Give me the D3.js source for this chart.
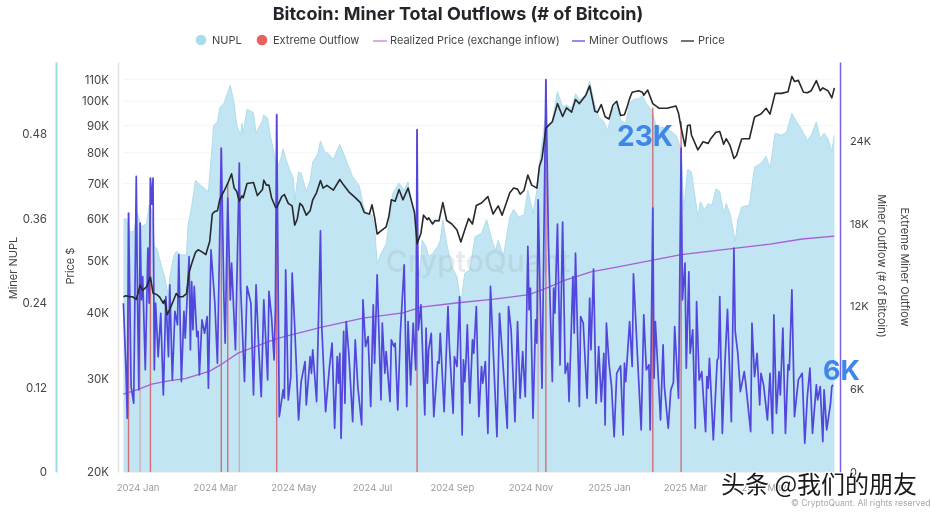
<!DOCTYPE html>
<html><head><meta charset="utf-8">
<script src="https://cdn.jsdelivr.net/npm/d3@7"></script>
<style>
html,body{margin:0;padding:0;background:#fff}
svg{display:block;font-family:Inter,"Noto Sans",sans-serif;filter:blur(0.4px)}
</style></head><body>
<svg id="c" width="931" height="512"></svg>
<script>
// All series: [days since 2024-01-01, value]
const titleText = "Bitcoin: Miner Total Outflows (# of Bitcoin)";
const monthTicks = ["2024-01-01","2024-03-01","2024-05-01","2024-07-01","2024-09-01","2024-11-01","2025-01-01","2025-03-01","2025-05-01"];
const nuplTicks = [0,0.12,0.24,0.36,0.48];
const priceTicks = [20,30,40,50,60,70,80,90,100,110]; // thousand USD
const outflowTicks = [0,6,12,18,24]; // thousand BTC

const minerOutflows = [[-11,12.23],[-9,7.40],[-8,3.89],[-7,18.76],[-5,6.19],[-3,4.98],[-1,21.41],[0,12.23],[1,5.95],[2,18.03],[3,12.47],[4,14.16],[6,7.40],[8,16.22],[9,12.23],[10,21.29],[11,19.4],[12,21.29],[13,7.40],[14,12.23],[16,8.36],[18,11.50],[20,5.58],[22,12.71],[24,8.36],[25,13.56],[27,6.67],[29,11.63],[31,10.66],[32,15.73],[34,6.55],[36,11.63],[37,9.69],[40,15.61],[41,8.85],[42,13.80],[43,10.30],[44,13.44],[46,9.81],[47,10.18],[48,7.03],[50,11.02],[52,10.05],[54,11.26],[55,6.07],[57,16.10],[60,12.23],[62,7.88],[65,23.47],[67,12.71],[68,9.33],[70,19.84],[72,12.47],[73,15.13],[76,8.85],[79,22.38],[80,13.44],[83,6.55],[85,13.44],[88,12.23],[90,5.58],[92,13.56],[94,9.09],[96,5.46],
[98,12.47],[101,6.67],[102,13.08],[104,11.26],[106,8.12],[107,11.87],[108,25.89],[110,4.01],[113,5.95],[114,5.34],[115,14.65],[117,5.22],[119,6.91],[120,14.41],[122,10.54],[125,3.77],[127,6.55],[130,8.00],[131,4.86],[134,8.36],[135,7.15],[136,8.85],[139,5.10],[142,17.47],[143,10.54],[146,4.37],[149,7.64],[151,9.33],[153,3.17],[155,8.36],[156,6.43],[157,8.60],[158,2.44],[160,10.18],[161,4.98],[162,10.90],[164,8.60],[167,3.65],[169,9.57],[171,6.19],[174,3.41],[175,12.47],[177,9.09],[179,9.81],[181,4.74],[183,12.11],[184,7.88],[186,14.28],[189,5.22],[190,10.78],[192,7.15],[193,8.73],[196,5.10],[197,9.57],[199,9.09],[200,9.33],[202,4.50],[204,10.05],[207,15.0],
[209,4.74],[210,10.90],[212,6.31],[214,10.78],[216,7.40],[217,24.80],[218,10.30],[220,12.11],[223,4.13],[224,10.42],[225,6.43],[226,8.85],[228,10.05],[230,4.01],[233,8.00],[234,7.88],[235,10.05],[238,4.37],[241,11.99],[242,9.33],[245,4.25],[246,8.36],[248,7.64],[250,12.71],[252,2.68],[253,8.12],[254,6.55],[255,8.12],[256,10.66],[258,4.98],[260,9.57],[261,8.60],[263,11.99],[265,4.01],[267,7.64],[268,6.43],[270,8.00],[272,2.80],[274,13.44],[279,2.56],[281,11.50],[284,7.40],[287,3.17],[288,11.99],[290,10.30],[293,3.65],[295,10.90],[296,8.12],[297,5.34],[299,8.73],[301,5.46],[303,16.34],[304,11.75],[305,13.32],[307,3.89],[309,11.02],[310,9.33],[311,19.72],[314,6.07],[317,28.42],
[319,16.58],[322,6.55],[323,13.32],[324,11.50],[326,17.96],[328,7.76],[330,18.10],[332,7.15],[334,7.88],[335,5.10],[338,14.16],[339,10.05],[340,15.86],[343,4.74],[344,11.26],[346,10.78],[349,5.34],[351,12.59],[352,8.85],[354,14.70],[356,4.98],[358,9.09],[360,5.10],[362,8.60],[363,3.41],[364,10.78],[366,7.88],[368,6.19],[370,2.56],[372,7.15],[375,7.69],[377,2.68],[378,7.88],[379,6.55],[382,10.90],[384,7.64],[385,14.36],[388,8.60],[391,3.05],[393,11.38],[395,7.40],[397,7.76],[398,3.05],[400,19.12],[401,6.79],[402,10.90],[406,3.77],[408,9.21],[409,6.19],[412,3.17],[414,5.95],[416,6.48],[417,10.54],[420,5.34],[422,23.47],[423,12.47],[425,15.13],[426,7.52],[428,14.5],
[429,8.60],[431,10.30],[433,3.17],[434,12.35],[436,6.67],[438,7.27],[441,2.92],[442,6.91],[443,6.07],[444,8.24],[447,2.32],[450,8.12],[451,8.24],[452,12.71],[454,2.80],[456,7.88],[458,11.79],[461,3.65],[463,16.22],[464,10.18],[466,8.60],[468,5.82],[471,7.27],[472,6.55],[476,2.92],[477,10.78],[479,6.91],[481,8.60],[483,4.86],[484,7.15],[486,6.31],[489,3.77],[491,7.15],[493,2.80],[494,11.38],[496,4.25],[498,7.27],[499,5.58],[501,10.42],[503,2.80],[505,7.76],[506,7.40],[508,13.20],[510,4.01],[513,6.67],[516,7.15],[518,2.08],[520,5.46],[522,7.52],[524,2.80],[527,6.31],[528,5.22],[530,6.19],[532,2.20],[533,5.95],[535,3.05],[538,4.98],[539,6.19],[540,6.31]];

const priceK = [[-11,42.8],[-9,43],[-6,42.8],[-4,42.8],[-1,42.3],[2,45],[4,44],[7,44.7],[10,46.6],[12,43.5],[15,43.2],[17,42.8],[20,41.6],[21,42.2],[23,39.6],[25,40.5],[28,42.2],[30,43.4],[32,42.8],[35,42.8],[38,43.4],[40,47.6],[42,49.4],[45,51.9],[47,52.5],[50,52],[53,51.4],[56,54.4],[58,61.3],[60,62],[62,62.2],[64,65.5],[67,67.6],[70,70],[73,73],[75,68.6],[77,67.6],[79,64.8],[81,66.3],[82,65.8],[85,70],[90,70.3],[93,66.4],[97,68.2],
[98,71],[100,69.5],[102,69.5],[104,65.8],[107,63.2],[108,63],[112,66.2],[114,66.7],[117,64.2],[120,63.5],[122,58.4],[124,60],[126,64.2],[128,63.5],[131,61],[134,62.2],[136,65.2],[139,67.3],[142,70.9],[144,68.6],[147,69.4],[152,68],[157,71.2],[160,69.5],[164,67.5],[169,65.8],[173,64.4],[176,61.7],[180,61.3],[182,63.8],[184,60.5],[186,56.2],[189,57],[193,58],[195,60.5],[197,65.2],[200,64.8],[203,68.2],[206,65.2],
[210,68.6],[213,64.4],[215,61.7],[217,53.9],[220,56.4],[222,61],[225,59.8],[226,60.3],[229,58.7],[231,59.6],[234,59.5],[237,64.4],[240,59.6],[244,58.7],[248,57.2],[251,54.3],[254,57.2],[257,60.1],[260,58.7],[263,63.6],[267,64.3],[272,66.1],[276,61.3],[280,63.5],[283,61],[289,67.2],[292,68.6],[295,68.3],[297,66.8],[300,67.9],[303,72.6],[306,69.5],[310,68.6],[312,75.4],[314,78],[317,89],
[318,89.5],[322,91.5],[326,99],[330,93.6],[333,97.2],[337,95.4],[340,100.8],[343,99],[348,102.7],[351,106.9],[355,95.8],[357,95.3],[360,98.6],[363,93.5],[366,92.6],[369,98.3],[372,100],[375,94],[378,94.3],[380,97.4],[382,101.2],[384,104],[389,104.7],[392,104],[393,102.7],[396,105],[400,99],[405,97],[411,97],[418,98],[420,94.9],[422,89.2],[425,82.3],[427,90],
[429,90.2],[430,86.4],[435,81],[439,83.9],[443,83.3],[445,85],[449,87.4],[452,87.7],[455,83],[457,85],[460,82.5],[463,78],[465,79],[469,84.9],[471,85],[475,85],[479,93.4],[484,94.6],[488,97],[491,94.6],[495,103.5],[500,103.5],[505,104.2],[508,111.4],[510,109],[513,109.5],[517,104],[520,103.8],[523,104.7],[527,109.4],[530,104.7],[532,106],[536,104.7],[539,101.5],[541,106]];

const nupl = [[-11,.358],[-9,.360],[-6,.341],[-3,.341],[0,.367],[3,.348],[7,.353],[9,.379],[11,.372],[13,.320],[15,.317],[18,.296],[21,.277],[24,.249],[25,.277],[28,.306],[30,.313],[34,.308],[38,.308],[39,.348],[42,.377],[45,.414],[49,.407],[55,.398],[58,.466],[59,.492],[62,.497],[64,.518],[67,.523],[72,.549],[75,.523],[77,.492],[80,.478],[81,.495],[82,.481],[85,.515],[90,.510],[92,.481],[97,.499],
[98,.507],[101,.502],[103,.478],[106,.452],[108,.429],[111,.443],[113,.459],[115,.445],[118,.429],[121,.417],[122,.384],[125,.426],[127,.424],[131,.398],[134,.414],[136,.440],[140,.452],[142,.470],[145,.455],[148,.452],[152,.444],[157,.465],[160,.452],[164,.433],[167,.419],[172,.407],[175,.381],[177,.367],[182,.365],[184,.348],[186,.296],[189,.310],[193,.324],[196,.362],[198,.395],[203,.410],[207,.400],
[210,.412],[213,.381],[216,.360],[217,.320],[219,.277],[221,.329],[224,.320],[226,.306],[229,.310],[233,.320],[235,.329],[237,.358],[240,.324],[244,.291],[248,.277],[251,.239],[254,.282],[258,.287],[262,.334],[267,.339],[271,.358],[276,.324],[278,.315],[280,.329],[284,.306],[289,.362],[292,.373],[296,.362],[300,.365],[303,.400],[307,.367],[310,.400],[313,.452],[317,.509],
[318,.490],[322,.499],[326,.540],[330,.518],[333,.521],[337,.516],[340,.537],[343,.528],[348,.535],[351,.555],[355,.521],[358,.504],[362,.497],[365,.485],[369,.514],[372,.523],[375,.499],[379,.495],[382,.523],[385,.529],[389,.530],[392,.534],[395,.523],[399,.514],[403,.490],[411,.488],[418,.478],[422,.459],[424,.372],[427,.429],
[428,.429],[430,.426],[435,.362],[437,.384],[440,.372],[443,.381],[446,.379],[449,.402],[452,.398],[455,.367],[457,.381],[460,.367],[464,.327],[466,.358],[469,.376],[475,.379],[479,.433],[484,.438],[488,.448],[491,.431],[495,.481],[500,.478],[504,.483],[508,.509],[511,.499],[515,.488],[520,.471],[523,.478],[527,.497],[530,.473],[533,.481],[536,.473],[539,.455],[541,.478]];

const realizedPriceK = [[-11,28.05],[0,28.6],[11,29.3],[24,29.7],[37,30],[56,31],[64,31.8],[78,33.5],[96,34.8],[108,35.7],[143,37.5],[175,39],[206,39.9],[220,40.9],[249,41.7],[275,42.3],[304,43.2],[317,44.4],[331,45.9],[352,47.7],[372,48.7],[400,50.2],[422,51.4],[463,52.8],[491,53.8],[516,55],[541,55.7]];

// Extreme outflow: day, value in thousand BTC, faded flag
const extremeDays   = [-7,2,10,65,70,79,108,217,311,317,400,422];
const extremeValues = [18.76,18.03,21.29,23.47,20.95,22.38,25.89,24.80,19.72,28.42,26.4,25.4];
const extremeFaded  = [0,1,0,0,0,1,0,0,1,0,0,0];

const legendItems = ["NUPL","Extreme Outflow","Realized Price (exchange inflow)","Miner Outflows","Price"];

const svg = d3.select("#c");
const epoch = Date.UTC(2024,0,1);
const toDate = d => new Date(epoch + d*864e5);
const x = d3.scaleUtc().domain([toDate(-11),toDate(541)]).range([123.4,834.4]);
const plotTop = 62, plotBottom = 472;
const yNupl = d3.scaleLinear().domain([0,0.582]).range([plotBottom,plotTop]);
const yPrice = d3.scaleLog().domain([20,118.6]).range([plotBottom,plotTop]);
const yOut = d3.scaleLinear().domain([0,29.7]).range([plotBottom,plotTop]);

// gridlines
svg.append("g").selectAll("line").data(priceTicks.slice(1)).join("line")
  .attr("x1",123).attr("x2",835).attr("y1",d=>yPrice(d)).attr("y2",d=>yPrice(d))
  .attr("stroke","#f3f4f6").attr("stroke-width",1);

// NUPL area
svg.append("path").datum(nupl)
  .attr("d",d3.area().x(d=>x(toDate(d[0]))).y0(plotBottom).y1(d=>yNupl(d[1])))
  .attr("fill","#c1e5f2");
svg.append("path").datum(nupl)
  .attr("d",d3.line().x(d=>x(toDate(d[0]))).y(d=>yNupl(d[1])))
  .attr("fill","none").attr("stroke","#b0dcea").attr("stroke-width",1);

// Watermark
svg.append("text").attr("x",478).attr("y",272).attr("text-anchor","middle")
  .attr("font-size",30).attr("font-weight",500).attr("fill","#9fb4c4").attr("opacity",.28).text("CryptoQuant");

// Extreme bars
svg.append("g").selectAll("line").data(extremeDays).join("line")
  .attr("x1",d=>x(toDate(d))).attr("x2",d=>x(toDate(d)))
  .attr("y1",plotBottom).attr("y2",(d,i)=>yOut(extremeValues[i]))
  .attr("stroke",(d,i)=>extremeFaded[i]?"#c9a8ae":"#d4626a").attr("stroke-width",1.4)
  .attr("opacity",(d,i)=>extremeFaded[i]?.85:.9);

// Realized
svg.append("path").datum(realizedPriceK)
  .attr("d",d3.line().x(d=>x(toDate(d[0]))).y(d=>yPrice(d[1])))
  .attr("fill","none").attr("stroke","#a65fd6").attr("stroke-width",1.3);

// Outflows
svg.append("path").datum(minerOutflows)
  .attr("d",d3.line().x(d=>x(toDate(d[0]))).y(d=>yOut(d[1])))
  .attr("fill","none").attr("stroke","#5246dc").attr("stroke-width",1.7).attr("stroke-linejoin","round");

// Price
svg.append("path").datum(priceK)
  .attr("d",d3.line().x(d=>x(toDate(d[0]))).y(d=>yPrice(d[1])))
  .attr("fill","none").attr("stroke","#26282c").attr("stroke-width",1.6).attr("stroke-linejoin","round");

// Axes
function styleAxis(g,color,w,txt,size){
  g.select(".domain").attr("stroke",color).attr("stroke-width",w);
  g.selectAll(".tick line").remove();
  g.selectAll("text").attr("fill",txt).attr("font-size",size).attr("font-family","Inter,sans-serif");
}
svg.append("g").attr("transform","translate(56,0)")
  .call(d3.axisLeft(yNupl).tickValues(nuplTicks).tickFormat(d=>d===0?"0":d3.format(".2f")(d)).tickSize(0).tickPadding(9))
  .call(g=>styleAxis(g,"#9bdbe4",2,"#444",11.5));
svg.append("g").attr("transform","translate(118,0)")
  .call(d3.axisLeft(yPrice).tickValues(priceTicks).tickFormat(d=>d+"K").tickSize(0).tickPadding(9))
  .call(g=>styleAxis(g,"#e3e3e7",1.5,"#444",11.5));
svg.append("g").attr("transform","translate(840,0)")
  .call(d3.axisRight(yOut).tickValues(outflowTicks).tickFormat(d=>d===0?"0":d+"K").tickSize(0).tickPadding(10))
  .call(g=>styleAxis(g,"#7b5fe8",1.5,"#444",11));
const xAxis = svg.append("g").attr("transform",`translate(0,${plotBottom})`)
  .call(d3.axisBottom(x).tickValues(monthTicks.map(s=>new Date(s+"T00:00:00Z"))).tickFormat(d3.utcFormat("%Y %b")).tickSize(0).tickPadding(12));
xAxis.select(".domain").attr("stroke","#eceef0");
xAxis.selectAll("text").attr("fill","#9a9a9e").attr("font-size",9.5).attr("font-family","Inter,sans-serif");

// Axis titles
const rot=(tx,ty,a,t)=>svg.append("text").attr("transform",`translate(${tx},${ty}) rotate(${a})`)
  .attr("text-anchor","middle").attr("font-size",11).attr("fill","#444").text(t);
rot(17,268,-90,"Miner NUPL");
rot(74,266,-90,"Price $");
rot(878,266,90,"Miner Outflow (# of Bitcoin)");
rot(901,267,90,"Extreme Miner Outflow");

// Title
svg.append("text").attr("x",458).attr("y",20).attr("text-anchor","middle")
  .attr("font-size",18).attr("font-weight",700).attr("fill","#23252a").text(titleText);

// Legend
const lg = svg.append("g").attr("font-size",11).attr("fill","#444");
lg.append("circle").attr("cx",201).attr("cy",40).attr("r",5.3).attr("fill","#a8dcec");
lg.append("text").attr("x",212).attr("y",44).text(legendItems[0]);
lg.append("circle").attr("cx",262).attr("cy",40).attr("r",5.3).attr("fill","#e8605f");
lg.append("text").attr("x",273).attr("y",44).text(legendItems[1]);
lg.append("line").attr("x1",373).attr("x2",387).attr("y1",41).attr("y2",41).attr("stroke","#c77fe0").attr("stroke-width",1.3);
lg.append("text").attr("x",390).attr("y",44).text(legendItems[2]);
lg.append("line").attr("x1",572).attr("x2",585).attr("y1",41).attr("y2",41).attr("stroke","#5a4de0").attr("stroke-width",1.3);
lg.append("text").attr("x",589).attr("y",44).text(legendItems[3]);
lg.append("line").attr("x1",681).attr("x2",694).attr("y1",41).attr("y2",41).attr("stroke","#26282c").attr("stroke-width",1.3);
lg.append("text").attr("x",698).attr("y",44).text(legendItems[4]);

// Big annotations
svg.append("text").attr("x",645).attr("y",146).attr("text-anchor","middle").attr("font-size",28).attr("font-weight",700).attr("fill","#3f86ea").text("23K");
svg.append("text").attr("x",841.5).attr("y",380).attr("text-anchor","middle").attr("font-size",27).attr("font-weight",700).attr("fill","#3f86ea").text("6K");

// Footer
svg.append("text").attr("x",791).attr("y",506).attr("font-size",8.5).attr("fill","#a8a8ac").text("© CryptoQuant. All rights reserved");
svg.append("text").attr("x",721).attr("y",493).attr("font-size",24)
  .attr("font-family",'"Noto Sans CJK SC",sans-serif').attr("fill","#1a1a1a")
  .attr("stroke","#fff").attr("stroke-width",2).attr("paint-order","stroke").text("头条 @我们的朋友");
</script>
</body></html>
